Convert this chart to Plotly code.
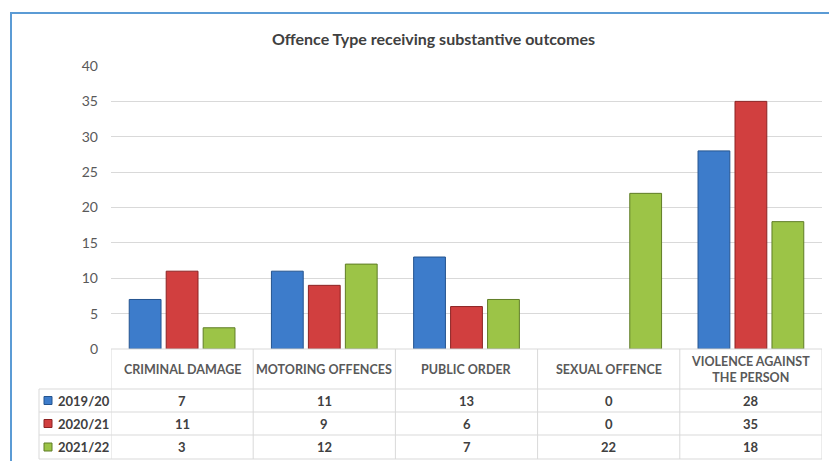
import plotly.graph_objects as go

categories = ["CRIMINAL DAMAGE", "MOTORING OFFENCES", "PUBLIC ORDER", "SEXUAL OFFENCE", "VIOLENCE AGAINST THE PERSON"]
header_labels = ["CRIMINAL DAMAGE", "MOTORING OFFENCES", "PUBLIC ORDER", "SEXUAL OFFENCE", "VIOLENCE AGAINST<br>THE PERSON"]
series_names = ["2019/20", "2020/21", "2021/22"]
values_1920 = [7, 11, 13, 0, 28]
values_2021 = [11, 9, 6, 0, 35]
values_2122 = [3, 12, 7, 22, 18]
y_ticks = [0, 5, 10, 15, 20, 25, 30, 35, 40]

series_values = [values_1920, values_2021, values_2122]
fill_colors = ["#3D7CCB", "#D13F3F", "#9CC447"]
line_colors = ["#24548F", "#8C2323", "#5F7D26"]

W, H = 829, 461
L, R, T, B = 111, 822, 66, 349
PH = B - T
PW = R - L

def py(p):
    return (B - p) / PH

def px(p):
    return (p - L) / PW

fig = go.Figure()
for name, vals, fc, lc in zip(series_names, series_values, fill_colors, line_colors):
    fig.add_trace(go.Bar(
        x=categories, y=vals, name=name,
        marker=dict(color=fc, line=dict(color=lc, width=[0 if v == 0 else 1 for v in vals])),
        hoverinfo="x+y+name",
    ))

grid = "#D9D9D9"
txt = "#595959"
dark = "#404040"
font_family = "Lato, 'Open Sans', sans-serif"

shapes = []
annotations = []

# outer chart frame
shapes.append(dict(type="rect", xref="paper", yref="paper",
                   x0=px(11), x1=px(840), y0=py(13), y1=py(475),
                   line=dict(color="#5B9BD5", width=2), fillcolor="rgba(0,0,0,0)", layer="below"))

# table horizontal lines
row_lines = [349, 389, 412, 435, 459]
for i, yy in enumerate(row_lines):
    if i == 0:
        shapes.append(dict(type="line", xref="x", yref="paper", x0=-0.5, x1=len(categories) - 0.5,
                           y0=py(yy), y1=py(yy), line=dict(color=grid, width=1)))
    else:
        shapes.append(dict(type="line", xref="paper", yref="paper", x0=px(39), x1=1,
                           y0=py(yy), y1=py(yy), line=dict(color=grid, width=1)))

# table vertical lines at column boundaries
for k in range(len(categories) + 1):
    shapes.append(dict(type="line", xref="x", yref="paper", x0=k - 0.5, x1=k - 0.5,
                       y0=py(349), y1=py(459), line=dict(color=grid, width=1)))
# legend column left border
shapes.append(dict(type="line", xref="paper", yref="paper", x0=px(39), x1=px(39),
                   y0=py(389), y1=py(459), line=dict(color=grid, width=1)))

# header labels
for c, lab in zip(categories, header_labels):
    annotations.append(dict(x=c, xref="x", y=py(369.5), yref="paper", text="<b>" + lab + "</b>",
                            showarrow=False, font=dict(size=12.5, color=txt, family=font_family),
                            xanchor="center", yanchor="middle"))

row_centers = [400.5, 423.5, 447]
for rc, name, vals, fc, lc in zip(row_centers, series_names, series_values, fill_colors, line_colors):
    shapes.append(dict(type="rect", xref="paper", yref="paper",
                       x0=px(44), x1=px(52), y0=py(rc - 4), y1=py(rc + 4),
                       fillcolor=fc, line=dict(color=lc, width=1)))
    annotations.append(dict(x=px(56), xref="paper", y=py(rc), yref="paper", text="<b>" + name + "</b>",
                            showarrow=False, font=dict(size=13, color=dark, family=font_family),
                            xanchor="left", yanchor="middle"))
    for c, v in zip(categories, vals):
        annotations.append(dict(x=c, xref="x", y=py(rc), yref="paper", text="<b>%d</b>" % v,
                                showarrow=False, font=dict(size=13, color=dark, family=font_family),
                                xanchor="center", yanchor="middle"))

fig.update_layout(
    width=W, height=H,
    margin=dict(l=L, r=W - R, t=T, b=H - B),
    paper_bgcolor="white", plot_bgcolor="white",
    barmode="group", bargap=0.22, bargroupgap=0.14,
    showlegend=False,
    title=dict(text="<b>Offence Type receiving substantive outcomes</b>", x=0.5 * (270 + 597) / W,
               xanchor="center", y=1 - 39 / H, yanchor="middle",
               font=dict(size=16, color=dark, family=font_family)),
    xaxis=dict(range=[-0.5, len(categories) - 0.5], showticklabels=False, showgrid=False,
               zeroline=False, showline=False, ticks=""),
    yaxis=dict(range=[0, 40], tickvals=y_ticks, showgrid=True, gridcolor=grid, gridwidth=1,
               zeroline=False, showline=False, ticks="", ticklabelstandoff=12,
               tickfont=dict(size=14, color=txt, family=font_family)),
    shapes=shapes, annotations=annotations,
    font=dict(family=font_family),
)

fig.write_html("out.html", config={"displayModeBar": False},
               post_script="document.body.style.margin='0px';document.body.style.padding='0px';")
